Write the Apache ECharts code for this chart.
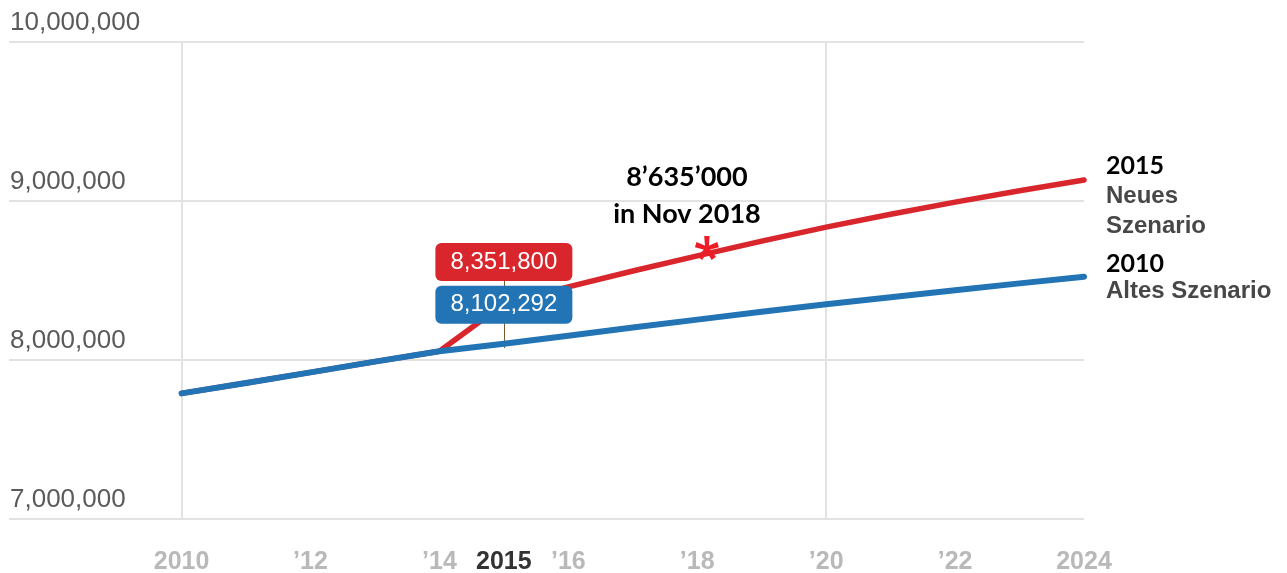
<!DOCTYPE html>
<html>
<head>
    <meta charset="utf-8">
    <script type="text/javascript" src="https://cdn.jsdelivr.net/npm/echarts@6.0.0/dist/echarts.min.js"></script>
    <style>
        html, body { margin: 0; padding: 0; background: #fff; }
    </style>
</head>
<body>
    <div id="main" style="width: 1287px;height:573px;"></div>
    <script type="text/javascript">
    // Bevölkerungsszenarien Schweiz
    let years = [2010, 2011, 2012, 2013, 2014, 2015, 2016, 2017, 2018, 2019, 2020, 2021, 2022, 2023, 2024]
    let altesSzenario = [7790000, 7855000, 7922000, 7990000, 8055000, 8102292, 8153000, 8204000, 8254000, 8303000, 8350000, 8395000, 8439000, 8482000, 8524000]
    let neuesSzenario = [7790000, 7855000, 7922000, 7990000, 8055000, 8351800, 8460000, 8560000, 8655000, 8748000, 8836000, 8917000, 8993000, 9064000, 9132000]
    let xLabelYears = [2010, 2012, 2014, 2015, 2016, 2018, 2020, 2022, 2024]
    let highlightYear = 2015
    let gridYears = [2010, 2020]
    let starPoint = [2018.15, 8704000]
    let starText = '8\u2019635\u2019000\nin Nov 2018'

    let RED = '#d8262c'
    let BLUE = '#2274b5'
    let SANS = '"Liberation Sans", Arial, sans-serif'
    let fmt = v => Math.round(v).toLocaleString('en-US')

    // kleiner roter Stern (5 Arme)
    function asteriskPath() {
        let parts = []
        for (let k = 0; k < 5; k++) {
            let a = (-90 + k * 72) * Math.PI / 180
            let dx = Math.cos(a), dy = Math.sin(a)
            let nx = -dy, ny = dx
            let w0 = 7, w1 = 11, L = 48
            let p = [
                [50 + nx * w0, 50 + ny * w0],
                [50 + nx * w1 + dx * L, 50 + ny * w1 + dy * L],
                [50 - nx * w1 + dx * L, 50 - ny * w1 + dy * L],
                [50 - nx * w0, 50 - ny * w0]
            ]
            parts.push('M' + p.map(q => q[0].toFixed(1) + ' ' + q[1].toFixed(1)).join(' L') + ' Z')
        }
        return 'path://' + parts.join(' ')
    }

    function seriesData(values, color, offsetY) {
        return years.map((y, i) => {
            if (y !== highlightYear) return [y, values[i]]
            return {
                value: [y, values[i]],
                label: {
                    show: true,
                    position: 'inside',
                    offset: [0, offsetY],
                    formatter: p => fmt(p.value[1]),
                    backgroundColor: color,
                    borderRadius: 6,
                    width: 137,
                    height: 38,
                    lineHeight: 38,
                    padding: 0,
                    align: 'center',
                    verticalAlign: 'middle',
                    color: '#fff',
                    fontFamily: SANS,
                    fontSize: 24
                }
            }
        })
    }

    function endRich(lh) {
        return {
            y: { fontFamily: 'Lato', fontWeight: 'bold', fontSize: 25, color: '#000', lineHeight: lh },
            d: { fontFamily: SANS, fontWeight: 'bold', fontSize: 24, color: '#474747', lineHeight: lh }
        }
    }

    var myChart = echarts.init(document.getElementById('main'), null, { renderer: 'canvas' })
    let option = {
        animation: false,
        grid: { left: 9, right: 203, top: 42, bottom: 54, containLabel: false, outerBoundsMode: 'none' },
        xAxis: {
            type: 'value',
            min: 2010 - 172.5 / 64.43,
            max: 2024,
            axisLine: { show: false },
            axisTick: { show: false },
            splitLine: { show: false },
            axisLabel: {
                customValues: xLabelYears,
                margin: 31,
                color: '#b9b9b9',
                fontFamily: SANS,
                fontWeight: 'bold',
                fontSize: 25,
                formatter: v => {
                    if (v === highlightYear) return '{b|' + v + '}'
                    if (v === 2010 || v === 2024) return String(v)
                    return '\u2019' + String(v).slice(2)
                },
                rich: {
                    b: { color: '#333', fontWeight: 'bold', fontSize: 25, fontFamily: SANS }
                }
            }
        },
        yAxis: {
            type: 'value',
            min: 7000000,
            max: 10000000,
            interval: 1000000,
            axisLine: { show: false },
            axisTick: { show: false },
            splitLine: { lineStyle: { color: '#e2e2e2', width: 2 } },
            axisLabel: {
                inside: true,
                margin: 1,
                verticalAlign: 'bottom',
                padding: [0, 0, 6, 0],
                color: '#5a5a5a',
                fontFamily: SANS,
                fontSize: 26,
                formatter: v => fmt(v)
            }
        },
        series: [{
            name: 'Neues Szenario',
            type: 'line',
            z: 3,
            showSymbol: true,
            symbol: 'circle',
            symbolSize: 0,
            emphasis: { disabled: true },
            lineStyle: { color: RED, width: 5.5, cap: 'round', join: 'round' },
            itemStyle: { color: RED },
            data: seriesData(neuesSzenario, RED, -42),
            endLabel: {
                show: true,
                distance: 22,
                offset: [0, 16],
                formatter: '{y|2015}\n{d|Neues}\n{d|Szenario}',
                rich: endRich(30)
            },
            markLine: {
                silent: true,
                z: 1,
                symbol: 'none',
                label: { show: false },
                lineStyle: { color: '#e2e2e2', width: 2, type: 'solid' },
                data: gridYears.map(y => ({ xAxis: y }))
            },
            markPoint: {
                silent: true,
                data: [{
                    coord: starPoint,
                    symbol: asteriskPath(),
                    symbolSize: [24, 24],
                    itemStyle: { color: '#ee1c24' },
                    label: { show: false }
                }, {
                    coord: starPoint,
                    symbolSize: 0,
                    label: {
                        show: true,
                        offset: [-20, -52],
                        formatter: starText,
                        align: 'center',
                        verticalAlign: 'middle',
                        color: '#000',
                        fontFamily: 'Lato',
                        fontWeight: 'bold',
                        fontSize: 27,
                        lineHeight: 37
                    }
                }]
            }
        }, {
            name: 'Altes Szenario',
            type: 'line',
            z: 4,
            showSymbol: true,
            symbol: 'circle',
            symbolSize: 0,
            emphasis: { disabled: true },
            lineStyle: { color: BLUE, width: 6, cap: 'round', join: 'round' },
            itemStyle: { color: BLUE },
            data: seriesData(altesSzenario, BLUE, -39),
            endLabel: {
                show: true,
                distance: 22,
                offset: [0, 1],
                formatter: '{y|2010}\n{d|Altes Szenario}',
                rich: endRich(27)
            },
            markLine: {
                silent: true,
                z: 2,
                symbol: 'none',
                label: { show: false },
                lineStyle: { color: '#7a5a2a', width: 1, type: 'solid' },
                data: [[{ coord: [highlightYear, 8075000] }, { coord: [highlightYear, 8500000] }]]
            }
        }]
    }
    myChart.setOption(option)
    </script>
</body>
</html>
